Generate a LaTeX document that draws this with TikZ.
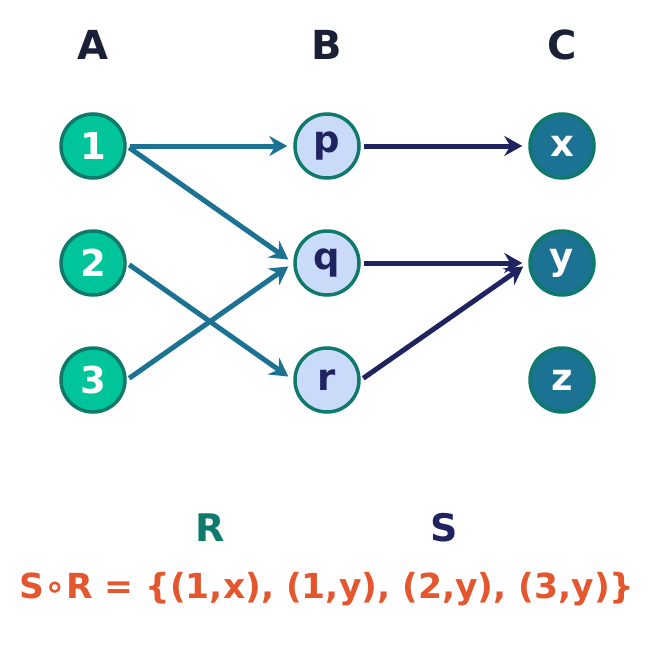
\documentclass[tikz,border=0pt]{standalone}
\usepackage{fontspec}
\setmainfont{DejaVu Sans}
\usetikzlibrary{arrows.meta}
\definecolor{mint}{HTML}{00C49A}
\definecolor{pine}{HTML}{0F7A6C}
\definecolor{sky}{HTML}{C9DBF8}
\definecolor{navy}{HTML}{1F2460}
\definecolor{teal}{HTML}{1C7293}
\definecolor{coral}{HTML}{E4572E}
\definecolor{ink}{HTML}{1B2036}
\tikzset{
  elem/.style={circle,draw=pine,line width=3.5pt,minimum size=64pt,inner sep=0pt,font=\fontsize{37}{37}\selectfont\bfseries},
  dom/.style={elem,fill=mint,text=white},
  mid/.style={elem,fill=sky,text=navy},
  cod/.style={elem,fill=teal,text=white},
  head/.style={font=\fontsize{40}{40}\selectfont\bfseries,text=ink},
  relR/.style={draw=teal,line width=5pt,-{Stealth[length=18pt,width=20pt,inset=6pt]},shorten <=3pt,shorten >=6pt},
  relS/.style={relR,draw=navy}
}
\begin{document}
\begin{tikzpicture}[x=1pt,y=-1pt]
  \useasboundingbox (0,0) rectangle (655,645);
  %column heads
  \node[head] (hA) at (93,45) {A};
  \node[head] (hB) at (327,45) {B};
  \node[head] (hC) at (562,45) {C};
  %elements
  \node[dom] (n1) at (93,146) {1};
  \node[dom] (n2) at (93,263) {2};
  \node[dom] (n3) at (93,380) {3};
  \node[mid] (np) at (327,146) {p};
  \node[mid] (nq) at (327,263) {q};
  \node[mid] (nr) at (327,380) {r};
  \node[cod] (nx) at (562,146) {x};
  \node[cod] (ny) at (562,263) {y};
  \node[cod] (nz) at (562,380) {z};
  %relation R
  \draw[relR] (n1.east) -- (np.west);
  \draw[relR] (n1.east) -- (nq.west);
  \draw[relR] (n2.east) -- (nr.west);
  \draw[relR] (n3.east) -- (nq.west);
  %relation S
  \draw[relS] (np.east) -- (nx.west);
  \draw[relS] (nq.east) -- (ny.west);
  \draw[relS] (nr.east) -- (ny.west);
  %labels
  \node[font=\fontsize{38}{38}\selectfont\bfseries,text=pine] (lR) at (210,528) {R};
  \node[font=\fontsize{38}{38}\selectfont\bfseries,text=navy] (lS) at (444,528) {S};
  \node[font=\fontsize{34.5}{34.5}\selectfont\bfseries,text=coral] (comp) at (327,589) {S∘R = \{(1,x), (1,y), (2,y), (3,y)\}};
\end{tikzpicture}
\end{document}
